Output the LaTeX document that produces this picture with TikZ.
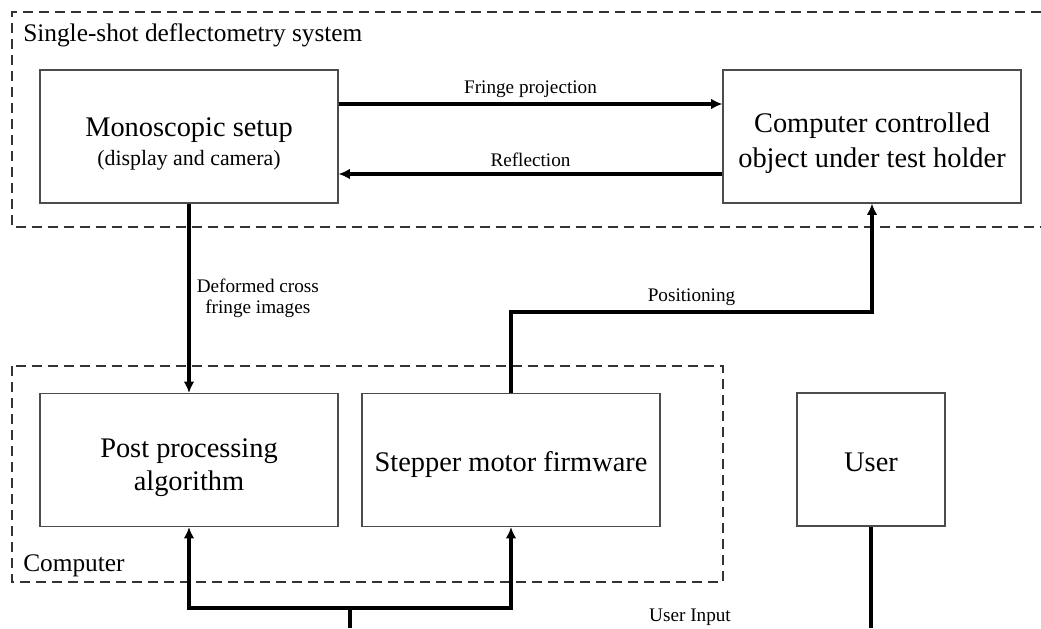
\documentclass[tikz,border=0pt]{standalone}
\usepackage{fontspec}
\setmainfont{Liberation Serif}
\usetikzlibrary{arrows.meta}

\newcommand{\blockstrut}[1]{\rule{0pt}{#1}}

\tikzset{
  block/.style={draw=black!70, line width=0.8pt, minimum width=223.5pt, minimum height=99.75pt, inner sep=0pt, align=center, font=\fontsize{21.3}{25}\selectfont},
  group/.style={draw=black!80, line width=0.8pt, dash pattern=on 7.5pt off 4.5pt},
  conn/.style={line width=3pt},
  arr/.style={conn, -{Latex[length=8.5pt,width=8pt]}},
  lbl/.style={font=\fontsize{14.4}{16}\selectfont, align=center},
  grouplbl/.style={anchor=west, font=\fontsize{19}{21}\selectfont, inner sep=0pt}
}

\begin{document}
\begin{tikzpicture}[x=0.75pt,y=-0.75pt]
\useasboundingbox (0,0) rectangle (1041,628);

% groups
\draw[group] (1041,12) -- (12,12) -- (12,227) -- (1041,227);
\node[grouplbl] (systitle) at (23,35) {Single-shot deflectometry system};
\draw[group] (12,366) rectangle (723,582);
\node[grouplbl] (comptitle) at (23,566) {Computer};

% blocks
\node[block] (mono) at (189,136.5) {\blockstrut{25pt}Monoscopic setup\\[-3pt]{\fontsize{16.4}{18}\selectfont (display and camera)}};
\node[block] (obj) at (872,136.5) {\blockstrut{25pt}Computer controlled\\[1pt]object under test holder};
\node[block] (post) at (189,460) {\blockstrut{26pt}Post processing\\algorithm};
\node[block] (step) at (511,460) {\blockstrut{22.5pt}Stepper motor firmware};
\node[block, minimum width=111pt] (user) at (871,459.5) {\blockstrut{18pt}User};

% connectors
\draw[arr] (mono.east |- 0,104) -- node[lbl, above=0pt] {Fringe projection} (obj.west |- 0,104);
\draw[arr] (obj.west |- 0,174) -- node[lbl, above=1pt] {Reflection} (mono.east |- 0,174);
\draw[arr] (mono.south) -- node[lbl, right=1pt] {Deformed cross\\fringe images} (post.north);
\draw[arr] (step.north) |- (obj.south |- 0,312) node[lbl, pos=0.75, above=0pt] {Positioning} -- (obj.south);

\coordinate (inp) at (350,628);
\coordinate (split) at (350,608);
\draw[conn] (inp) -- (split);
\draw[arr] (split) -| (post.south);
\draw[arr] (split) -| (step.south);
\node[lbl] (inplbl) at (690,617) {User Input};
\draw[conn] (user.south) -- (user.south |- inp);
\end{tikzpicture}
\end{document}
